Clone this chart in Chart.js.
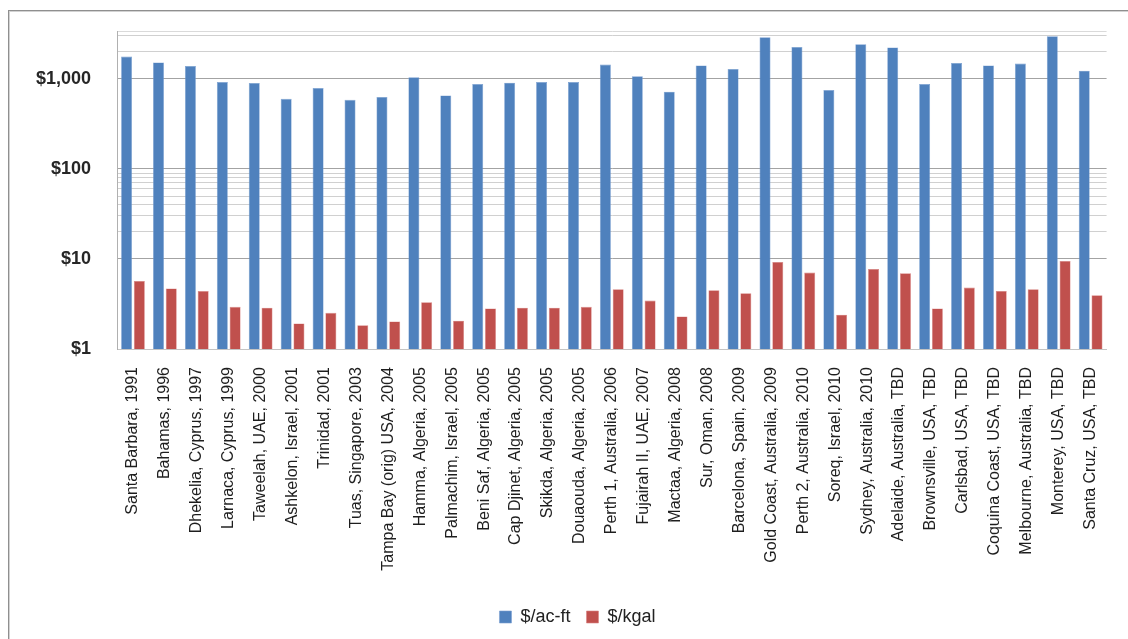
<!DOCTYPE html>
<html>
<head>
<meta charset="utf-8">
<script src="https://cdn.jsdelivr.net/npm/chart.js@4/dist/chart.umd.min.js"></script>
<style>
  html, body { margin: 0; padding: 0; background: #ffffff; overflow: hidden; }
  #frame {
    position: absolute; left: 8px; top: 10px; width: 1200px; height: 700px;
    border-left: 1px solid #8f8f8f; border-top: 1px solid #8f8f8f;
    box-shadow: inset 1px 1px 0 #d2d2d2;
  }
  #wrap { position: absolute; left: 0; top: 0; width: 1128px; height: 639px; }
</style>
</head>
<body>
<div id="frame"></div>
<div id="wrap"><canvas id="c" width="1128" height="639"></canvas></div>
<script>
// Desalination plants: cost of water per acre-foot and per thousand gallons
const plants = [
  'Santa Barbara, 1991', 'Bahamas, 1996', 'Dhekelia, Cyprus, 1997', 'Larnaca, Cyprus, 1999',
  'Taweelah, UAE, 2000', 'Ashkelon, Israel, 2001', 'Trinidad, 2001', 'Tuas, Singapore, 2003',
  'Tampa Bay (orig) USA, 2004', 'Hamma, Algeria, 2005', 'Palmachim, Israel, 2005',
  'Beni Saf, Algeria, 2005', 'Cap Djinet, Algeria, 2005', 'Skikda, Algeria, 2005',
  'Douaouda, Algeria, 2005', 'Perth 1, Australia, 2006', 'Fujairah II, UAE, 2007',
  'Mactaa, Algeria, 2008', 'Sur, Oman, 2008', 'Barcelona, Spain, 2009',
  'Gold Coast, Australia, 2009', 'Perth 2, Australia, 2010', 'Soreq, Israel, 2010',
  'Sydney, Australia, 2010', 'Adelaide, Australia, TBD', 'Brownsville, USA, TBD',
  'Carlsbad, USA, TBD', 'Coquina Coast, USA, TBD', 'Melbourne, Australia, TBD',
  'Monterey, USA, TBD', 'Santa Cruz, USA, TBD'
];

const costPerAcreFoot = [
  1770, 1520, 1390, 920, 900, 600, 790, 585, 630, 1040, 655,
  875, 905, 920, 920, 1440, 1070, 720, 1410, 1290,
  2900, 2260, 750, 2420, 2230, 875, 1500, 1410, 1480, 2970, 1230
];

const costPerKgal = [
  5.7, 4.7, 4.4, 2.94, 2.87, 1.92, 2.52, 1.83, 2.02, 3.31, 2.06,
  2.82, 2.87, 2.87, 2.94, 4.61, 3.45, 2.30, 4.49, 4.16,
  9.26, 7.05, 2.40, 7.75, 6.93, 2.82, 4.81, 4.42, 4.61, 9.50, 3.95
];

const seriesNames = ['$/ac-ft', '$/kgal'];

// Log axis: gridline positions, and which of them carry a label
const axisMin = 1;
const axisMax = 3400;
const gridValues = [1, 10, 20, 30, 40, 50, 60, 70, 80, 90, 100, 1000, 2000, 3000, 3400];
const labeledValues = [1, 10, 100, 1000];
const labelTexts = ['$1', '$10', '$100', '$1,000'];
const majorValues = [10, 100, 1000];

const FONT = "'Liberation Sans', Arial, sans-serif";

// Nudges the legend row to the right of the canvas centre
const legendShift = {
  id: 'legendShift',
  afterLayout(chart) {
    const lg = chart.legend;
    if (lg) { lg.left += 19; lg.right += 19; }
  }
};

new Chart(document.getElementById('c'), {
  type: 'bar',
  data: {
    labels: plants,
    datasets: [
      {
        label: seriesNames[0],
        data: costPerAcreFoot,
        backgroundColor: '#4f81bd',
        borderColor: '#7aa0d2',
        borderWidth: 0.6,
        borderSkipped: 'bottom'
      },
      {
        label: seriesNames[1],
        data: costPerKgal,
        backgroundColor: '#c0504d',
        borderColor: '#d98583',
        borderWidth: 0.6,
        borderSkipped: 'bottom'
      }
    ]
  },
  plugins: [legendShift],
  options: {
    responsive: false,
    animation: false,
    devicePixelRatio: 1,
    layout: { padding: { top: 31, right: 11, left: 0, bottom: 3 } },
    datasets: { bar: { categoryPercentage: 0.8, barPercentage: 0.86 } },
    plugins: {
      tooltip: { enabled: false },
      legend: {
        position: 'bottom',
        labels: {
          boxWidth: 12,
          boxHeight: 12,
          padding: 16,
          color: '#222222',
          font: { family: FONT, size: 18 }
        }
      }
    },
    scales: {
      x: {
        grid: { display: false, drawTicks: false },
        border: { color: '#c4c4c4', width: 1 },
        ticks: {
          autoSkip: false,
          minRotation: 90,
          maxRotation: 90,
          padding: 18,
          color: '#1e1e1e',
          font: { family: FONT, size: 16 }
        },
        afterFit(scale) { scale.height = 243; }
      },
      y: {
        type: 'logarithmic',
        min: axisMin,
        max: axisMax,
        afterBuildTicks(scale) {
          scale.ticks = gridValues.map(v => ({ value: v, major: majorValues.includes(v) }));
        },
        ticks: {
          autoSkip: false,
          padding: 26,
          color: '#262626',
          font: { family: FONT, size: 18, weight: 'bold' },
          callback(value) {
            const i = labeledValues.indexOf(value);
            return i >= 0 ? labelTexts[i] : '';
          }
        },
        grid: {
          drawTicks: false,
          lineWidth: 1,
          color(ctx) {
            const v = ctx.tick ? ctx.tick.value : null;
            if (majorValues.includes(v)) return '#a3a3a3';
            if (v === axisMax) return '#dadada';
            if (v === axisMin) return '#c4c4c4';
            return '#d0d0d0';
          }
        },
        border: { color: '#b0b0b0', width: 1 },
        afterFit(scale) {
          scale.width = 117;
          scale.paddingTop = 0;
          scale.paddingBottom = 0;
        }
      }
    }
  }
});
</script>
</body>
</html>
